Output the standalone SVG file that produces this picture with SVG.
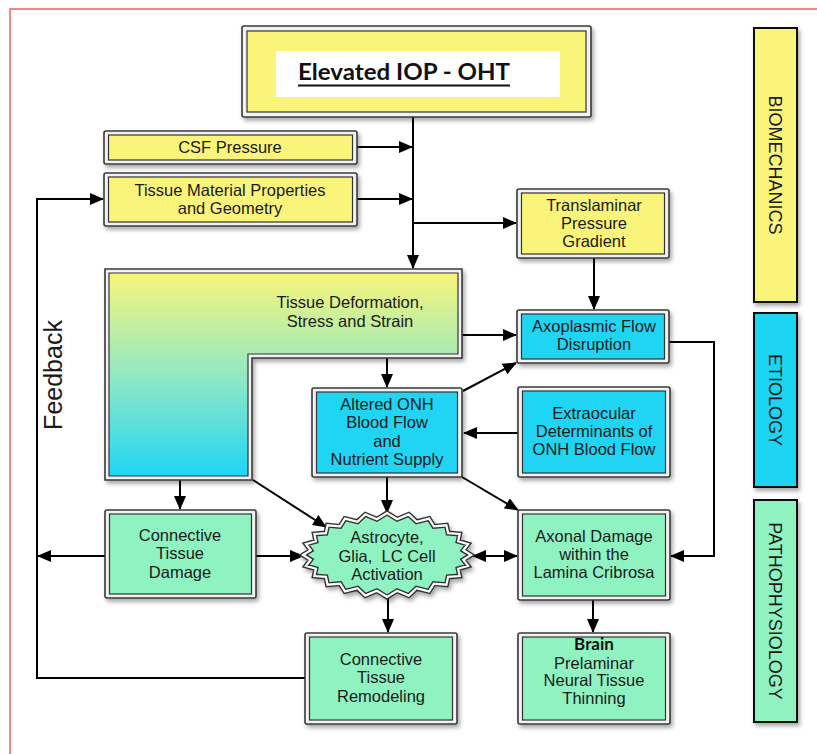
<svg xmlns="http://www.w3.org/2000/svg" width="817" height="754" viewBox="0 0 817 754">
<style>
.t{font-family:"Liberation Sans",Arial,sans-serif;font-size:16.5px;fill:#1a1a1a;text-anchor:middle}
.side{font-family:"Liberation Sans",Arial,sans-serif;font-size:18px;fill:#1a1a1a;text-anchor:middle}
.outer{fill:#f2f2f2;stroke:#3a3a3a;stroke-width:1.6}
.yel{fill:#faf57a;stroke:#333;stroke-width:1.2}
.cya{fill:#1fd5f3;stroke:#333;stroke-width:1.2}
.grn{fill:#8ef3c1;stroke:#333;stroke-width:1.2}
.c{fill:none;stroke:#000;stroke-width:2}
.a{marker-end:url(#ah)}
</style>
<defs>
<marker id="ah" markerUnits="userSpaceOnUse" markerWidth="14" markerHeight="12" refX="13" refY="6" orient="auto-start-reverse">
<path d="M0,0 L14,6 L0,12 Z" fill="#000"/>
</marker>
<filter id="sh" x="-10%" y="-10%" width="130%" height="140%">
<feDropShadow dx="2" dy="3" stdDeviation="2" flood-color="#000" flood-opacity="0.35"/>
</filter>
<linearGradient id="lg" gradientUnits="userSpaceOnUse" x1="0" y1="273" x2="0" y2="476">
<stop offset="0" stop-color="#f8f57a"/>
<stop offset="0.5" stop-color="#93e8c2"/>
<stop offset="1" stop-color="#1fd6f5"/>
</linearGradient>
</defs>
<rect width="817" height="754" fill="#fff"/>
<path d="M10,754 V9 H817" fill="none" stroke="#ff5a5a" stroke-width="1.5"/>

<g id="connectors">
<path class="c a" d="M413,117 V268"/>
<path class="c a" d="M357,147 H412"/>
<path class="c a" d="M357,199 H412"/>
<path class="c a" d="M413,223 H516"/>
<path class="c a" d="M594,258 V309"/>
<path class="c a" d="M462,335 H516"/>
<path class="c a" d="M387,358 V387"/>
<path class="c a" d="M463,391 L516,363"/>
<path class="c a" d="M518,433 H464"/>
<path class="c a" d="M669,342 H714 V556 H671"/>
<path class="c a" d="M387,477 V513"/>
<path class="c a" d="M462,477 L518,510"/>
<path class="c a" d="M180,480 V509"/>
<path class="c a" d="M253,480 L326,527"/>
<path class="c a" d="M256,556 H303"/>
<path class="c a" d="M473,556 H517" marker-start="url(#ah)"/>
<path class="c a" d="M388,597 V632"/>
<path class="c a" d="M593,600 V632"/>
<path class="c a" d="M105,556 H38"/>
<path class="c a" d="M305,678 H37 V199 H103"/>
</g>

<g id="elevated-iop">
<rect class="outer" x="242" y="26" width="349" height="91" rx="2" filter="url(#sh)"/>
<rect class="yel" x="247" y="31" width="339" height="81"/>
<rect x="276" y="51" width="284" height="46" fill="#fff"/>
<text x="298" y="80" font-family="Lato,'Liberation Sans',sans-serif" font-weight="bold" font-size="22" fill="#111" textLength="212" lengthAdjust="spacingAndGlyphs">Elevated IOP - OHT</text>
<line x1="298" y1="85.5" x2="510" y2="85.5" stroke="#111" stroke-width="2"/>
</g>

<g id="csf-pressure">
<rect class="outer" x="104" y="131" width="253" height="33" rx="2" filter="url(#sh)"/>
<rect class="yel" x="108.5" y="135" width="244" height="25"/>
<text class="t" x="230" y="153">CSF Pressure</text>
</g>

<g id="tissue-material">
<rect class="outer" x="104" y="173" width="253" height="53" rx="2" filter="url(#sh)"/>
<rect class="yel" x="108.5" y="177" width="244" height="45"/>
<text class="t" x="230" y="196">Tissue Material Properties</text>
<text class="t" x="230" y="214">and Geometry</text>
</g>

<g id="translaminar">
<rect class="outer" x="517" y="189" width="152" height="69" rx="2" filter="url(#sh)"/>
<rect class="yel" x="521.5" y="193" width="143" height="61"/>
<text class="t" x="594" y="211">Translaminar</text>
<text class="t" x="594" y="229">Pressure</text>
<text class="t" x="594" y="247">Gradient</text>
</g>

<g id="tissue-deformation">
<path class="outer" d="M105,269 H462 V358 H252 V480 H105 Z" filter="url(#sh)"/>
<path d="M109,273 H458 V354 H248 V476 H109 Z" fill="url(#lg)" stroke="#333" stroke-width="1.2"/>
<text class="t" x="350" y="308">Tissue Deformation,</text>
<text class="t" x="350" y="327">Stress and Strain</text>
</g>

<g id="axoplasmic">
<rect class="outer" x="517" y="310" width="152" height="53" rx="2" filter="url(#sh)"/>
<rect class="cya" x="521.5" y="314" width="143" height="45"/>
<text class="t" x="594" y="332">Axoplasmic Flow</text>
<text class="t" x="594" y="350">Disruption</text>
</g>

<g id="altered-onh">
<rect class="outer" x="312" y="388" width="150" height="89" rx="2" filter="url(#sh)"/>
<rect class="cya" x="316.5" y="392" width="141" height="81"/>
<text class="t" x="387" y="410">Altered ONH</text>
<text class="t" x="387" y="428">Blood Flow</text>
<text class="t" x="387" y="447">and</text>
<text class="t" x="387" y="465">Nutrient Supply</text>
</g>

<g id="extraocular">
<rect class="outer" x="518" y="387" width="152" height="90" rx="2" filter="url(#sh)"/>
<rect class="cya" x="522.5" y="391" width="143" height="82"/>
<text class="t" x="594" y="419">Extraocular</text>
<text class="t" x="594" y="437">Determinants of</text>
<text class="t" x="594" y="455">ONH Blood Flow</text>
</g>

<g id="connective-damage">
<rect class="outer" x="105" y="510" width="151" height="88" rx="2" filter="url(#sh)"/>
<rect class="grn" x="109.5" y="514" width="142" height="80"/>
<text class="t" x="180" y="541">Connective</text>
<text class="t" x="180" y="559">Tissue</text>
<text class="t" x="180" y="578">Damage</text>
</g>

<g id="astrocyte">
<path d="M471,555 L463.3,559.7 L468.1,565.9 L458.1,568.8 L459.7,576 L448.1,576.9 L446.4,584.7 L433.9,583.6 L429,591.4 L416.5,588.3 L408.7,595.6 L397.1,590.7 L387,597 L376.9,590.7 L365.3,595.6 L357.5,588.3 L345,591.4 L340.1,583.6 L327.6,584.7 L325.9,576.9 L314.3,576 L315.9,568.8 L305.9,565.9 L310.7,559.7 L303,555 L310.7,550.3 L305.9,544.1 L315.9,541.2 L314.3,534 L325.9,533.1 L327.6,525.3 L340.1,526.4 L345,518.6 L357.5,521.7 L365.3,514.4 L376.9,519.3 L387,513 L397.1,519.3 L408.7,514.4 L416.5,521.7 L429,518.6 L433.9,526.4 L446.4,525.3 L448.1,533.1 L459.7,534 L458.1,541.2 L468.1,544.1 L463.3,550.3 Z" fill="#8ef3c1" stroke="#333" stroke-width="5" stroke-linejoin="miter" filter="url(#sh)"/>
<path d="M471,555 L463.3,559.7 L468.1,565.9 L458.1,568.8 L459.7,576 L448.1,576.9 L446.4,584.7 L433.9,583.6 L429,591.4 L416.5,588.3 L408.7,595.6 L397.1,590.7 L387,597 L376.9,590.7 L365.3,595.6 L357.5,588.3 L345,591.4 L340.1,583.6 L327.6,584.7 L325.9,576.9 L314.3,576 L315.9,568.8 L305.9,565.9 L310.7,559.7 L303,555 L310.7,550.3 L305.9,544.1 L315.9,541.2 L314.3,534 L325.9,533.1 L327.6,525.3 L340.1,526.4 L345,518.6 L357.5,521.7 L365.3,514.4 L376.9,519.3 L387,513 L397.1,519.3 L408.7,514.4 L416.5,521.7 L429,518.6 L433.9,526.4 L446.4,525.3 L448.1,533.1 L459.7,534 L458.1,541.2 L468.1,544.1 L463.3,550.3 Z" fill="none" stroke="#fff" stroke-width="2.2"/>
<text class="t" x="387" y="543">Astrocyte,</text>
<text class="t" x="387" y="562" xml:space="preserve">Glia,  LC Cell</text>
<text class="t" x="387" y="580">Activation</text>
</g>

<g id="axonal-damage">
<rect class="outer" x="518" y="510" width="152" height="90" rx="2" filter="url(#sh)"/>
<rect class="grn" x="522.5" y="514" width="143" height="82"/>
<text class="t" x="594" y="542">Axonal Damage</text>
<text class="t" x="594" y="560">within the</text>
<text class="t" x="594" y="578">Lamina Cribrosa</text>
</g>

<g id="connective-remodeling">
<rect class="outer" x="305" y="633" width="152" height="91" rx="2" filter="url(#sh)"/>
<rect class="grn" x="309.5" y="637" width="143" height="83"/>
<text class="t" x="381" y="665">Connective</text>
<text class="t" x="381" y="683">Tissue</text>
<text class="t" x="381" y="702">Remodeling</text>
</g>

<g id="prelaminar">
<rect class="outer" x="518" y="633" width="152" height="91" rx="2" filter="url(#sh)"/>
<rect class="grn" x="522.5" y="637" width="143" height="83"/>
<text x="594" y="650" font-family="Lato,'Liberation Sans',sans-serif" font-weight="bold" font-size="17" fill="#111" text-anchor="middle">Brain</text>
<text class="t" x="594" y="669">Prelaminar</text>
<text class="t" x="594" y="686">Neural Tissue</text>
<text class="t" x="594" y="704">Thinning</text>
</g>

<g id="feedback-label">
<text x="0" y="0" transform="translate(62,375) rotate(-90)" font-family="'Liberation Sans',Arial,sans-serif" font-size="25" fill="#1a1a1a" text-anchor="middle">Feedback</text>
</g>

<g id="biomechanics">
<rect x="754" y="28" width="43" height="274" fill="#faf57a" stroke="#111" stroke-width="2" filter="url(#sh)"/>
<text class="side" transform="translate(769,165) rotate(90)">BIOMECHANICS</text>
</g>
<g id="etiology">
<rect x="754" y="313" width="43" height="174" fill="#1fd5f3" stroke="#111" stroke-width="2" filter="url(#sh)"/>
<text class="side" transform="translate(769,400) rotate(90)">ETIOLOGY</text>
</g>
<g id="pathophysiology">
<rect x="754" y="500" width="43" height="222" fill="#8ef3c1" stroke="#111" stroke-width="2" filter="url(#sh)"/>
<text class="side" transform="translate(769,611) rotate(90)">PATHOPHYSIOLOGY</text>
</g>
</svg>
